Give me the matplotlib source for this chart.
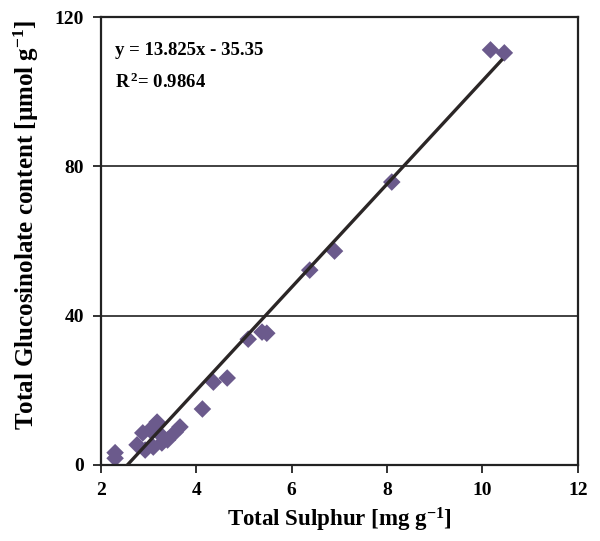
import matplotlib
matplotlib.use("Agg", force=True)
import matplotlib.pyplot as plt

matplotlib.rcParams.update({
    "font.family": "serif",
    "font.serif": ["Liberation Serif", "DejaVu Serif"],
    "font.weight": "bold",
    "mathtext.fontset": "custom",
    "mathtext.rm": "Liberation Serif:bold",
    "mathtext.bf": "Liberation Serif:bold",
    "mathtext.it": "Liberation Serif:bold",
})

# total sulphur [mg/g] vs total glucosinolate [umol/g]
sulphur = [2.30, 2.30, 2.76, 2.88, 2.93, 3.03, 3.10, 3.18, 3.28, 3.30, 3.40,
           3.56, 3.66, 4.13, 4.36, 4.65, 5.09, 5.38, 5.48, 6.38, 6.90, 8.10,
           10.17, 10.46]
glucosinolate = [3.3, 1.8, 5.4, 8.6, 4.0, 9.4, 4.8, 11.5, 5.9, 7.5, 6.7,
                 8.8, 10.2, 15.0, 22.2, 23.3, 33.7, 35.6, 35.3, 52.2, 57.3,
                 75.8, 111.2, 110.4]

slope, intercept = 13.825, -35.35
fit_x = [-intercept / slope, 10.4]

fig = plt.figure(figsize=(6.0, 5.41), dpi=100)
ax = fig.add_axes([0.168, 0.1405, 0.795, 0.828])

for yg in (40, 80):
    ax.axhline(yg, color="#333333", linewidth=1.3, zorder=1)

ax.scatter(sulphur, glucosinolate, marker="D", s=80, color="#6b5a8c",
           edgecolors="none", zorder=2)
ax.plot(fit_x, [slope * v + intercept for v in fit_x], color="#2b2626",
        linewidth=2.4, zorder=3)

ax.set_xlim(2, 12)
ax.set_ylim(0, 120)
ax.set_xticks(range(2, 13, 2))
ax.set_yticks([0, 40, 80, 120])
ax.tick_params(direction="out", length=6, width=1.3, labelsize=14,
               pad=6, color="#222222")
for lbl in ax.get_xticklabels() + ax.get_yticklabels():
    lbl.set_fontweight("bold")
for sp in ax.spines.values():
    sp.set_linewidth(1.6)
    sp.set_color("#222222")

ax.set_xlabel(r"Total Sulphur [mg g$^{\mathrm{-1}}$]", fontsize=16.5,
              fontweight="bold", labelpad=5)
ax.set_ylabel(r"Total Glucosinolate content [µmol g$^{\mathrm{-1}}$]",
              fontsize=18, fontweight="bold")
ax.yaxis.set_label_coords(-0.125, 0.536)

ax.text(0.03, 0.925, "y = 13.825x - 35.35", transform=ax.transAxes,
        fontsize=13.5, fontweight="bold", va="center")
ax.text(0.03, 0.855, r"R$^{\,2}$= 0.9864", transform=ax.transAxes,
        fontsize=13.5, fontweight="bold", va="center")

fig.savefig("out.png", dpi=100)
